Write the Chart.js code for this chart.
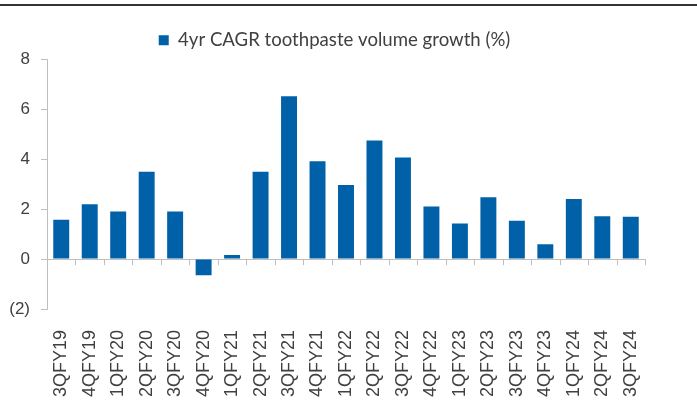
<!DOCTYPE html>
<html>
<head>
<meta charset="utf-8">
<script src="https://cdn.jsdelivr.net/npm/chart.js@4"></script>
<style>
  html, body { margin: 0; padding: 0; background: #fff; }
  #wrap { position: relative; width: 697px; height: 407px; }
  #topline { position: absolute; left: 0; top: 4px; width: 697px; height: 2px; background: #333; }
</style>
</head>
<body>
<div id="wrap">
  <div id="topline"></div>
  <canvas id="chart" width="697" height="407"></canvas>
</div>
<script>
const quarters = ['3QFY19', '4QFY19', '1QFY20', '2QFY20', '3QFY20', '4QFY20', '1QFY21',
  '2QFY21', '3QFY21', '4QFY21', '1QFY22', '2QFY22', '3QFY22', '4QFY22', '1QFY23',
  '2QFY23', '3QFY23', '4QFY23', '1QFY24', '2QFY24', '3QFY24'];
const volumeGrowth = [1.58, 2.20, 1.91, 3.50, 1.91, -0.65, 0.17, 3.50, 6.53, 3.92, 2.97,
  4.76, 4.07, 2.11, 1.43, 2.48, 1.54, 0.60, 2.41, 1.72, 1.70];
const seriesName = '4yr CAGR toothpaste volume growth (%)';

const axisGray = '#bfbfbf';
const textGray = '#404040';

// small tick marks on the zero line at the category boundaries
const zeroTicks = {
  id: 'zeroTicks',
  afterLayout(chart) {
    // legend sits a little right of centre in the original
    chart.legend.left += 12;
    chart.legend.right += 12;
  },
  afterDatasetsDraw(chart) {
    const x = chart.scales.x, y = chart.scales.y;
    const y0 = y.getPixelForValue(0);
    const ctx = chart.ctx;
    ctx.save();
    ctx.strokeStyle = axisGray;
    ctx.lineWidth = 1;
    ctx.beginPath();
    for (let i = 0; i <= quarters.length; i++) {
      const px = Math.round(x.getPixelForValue(i - 0.5)) + 0.5;
      ctx.moveTo(px, y0);
      ctx.lineTo(px, y0 + 6);
    }
    ctx.stroke();
    ctx.restore();
  }
};

new Chart(document.getElementById('chart'), {
  type: 'bar',
  data: {
    labels: quarters,
    datasets: [{
      label: seriesName,
      data: volumeGrowth,
      backgroundColor: '#0060a8',
      borderWidth: 0,
      categoryPercentage: 1,
      barPercentage: 0.56
    }]
  },
  options: {
    responsive: false,
    animation: false,
    layout: { padding: { left: 0, right: 52, top: 24, bottom: 0 } },
    plugins: {
      legend: {
        display: true,
        position: 'top',
        labels: {
          boxWidth: 10,
          boxHeight: 10,
          color: textGray,
          font: { family: 'Lato', size: 18.6 },
          padding: 7
        }
      },
      tooltip: { enabled: false }
    },
    scales: {
      x: {
        grid: { display: false },
        border: { display: false },
        afterFit: s => { s.height = 98; },
        ticks: {
          color: textGray,
          font: { family: 'Liberation Sans', size: 18 },
          minRotation: 90,
          maxRotation: 90,
          autoSkip: false,
          padding: 13
        }
      },
      y: {
        min: -2,
        max: 8,
        afterFit: s => { s.width = 47; },
        border: { display: true, color: axisGray, width: 1 },
        grid: {
          color: ctx => (ctx.tick && ctx.tick.value === 0 ? axisGray : 'rgba(0,0,0,0)'),
          tickColor: axisGray,
          tickLength: 6
        },
        ticks: {
          stepSize: 2,
          color: textGray,
          padding: 11,
          font: { family: 'Liberation Sans', size: 17 },
          callback: v => (v < 0 ? '(' + (-v) + ')' : String(v))
        }
      }
    }
  },
  plugins: [zeroTicks]
});
</script>
</body>
</html>
